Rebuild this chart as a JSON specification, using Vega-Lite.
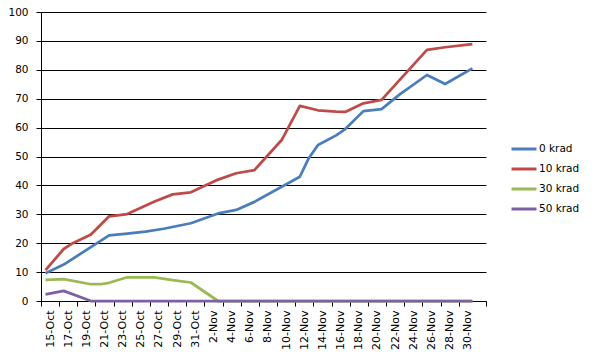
{
  "$schema": "https://vega.github.io/schema/vega-lite/v6.json",
  "width": 445,
  "height": 289,
  "autosize": {"type": "none"},
  "padding": {"left": 41, "top": 12, "right": 109, "bottom": 51},
  "background": "white",
  "config": {
    "view": {"stroke": null},
    "font": "DejaVu Sans",
    "axis": {"labelColor": "#000000", "labelFontSize": 10.5, "domainColor": "#000000", "tickColor": "#000000", "title": null}
  },
  "data": {
    "values": [
      {"date": "2009-10-15", "series": "0 krad", "value": 9.6},
      {"date": "2009-10-17", "series": "0 krad", "value": 12.6},
      {"date": "2009-10-22", "series": "0 krad", "value": 22.7},
      {"date": "2009-10-24", "series": "0 krad", "value": 23.3},
      {"date": "2009-10-26", "series": "0 krad", "value": 24.0},
      {"date": "2009-10-28", "series": "0 krad", "value": 25.0},
      {"date": "2009-10-31", "series": "0 krad", "value": 26.9},
      {"date": "2009-11-03", "series": "0 krad", "value": 30.3},
      {"date": "2009-11-05", "series": "0 krad", "value": 31.5},
      {"date": "2009-11-07", "series": "0 krad", "value": 34.3},
      {"date": "2009-11-12", "series": "0 krad", "value": 43.0},
      {"date": "2009-11-13", "series": "0 krad", "value": 49.5},
      {"date": "2009-11-14", "series": "0 krad", "value": 54.0},
      {"date": "2009-11-16", "series": "0 krad", "value": 57.3},
      {"date": "2009-11-17", "series": "0 krad", "value": 59.5},
      {"date": "2009-11-19", "series": "0 krad", "value": 65.7},
      {"date": "2009-11-21", "series": "0 krad", "value": 66.4},
      {"date": "2009-11-23", "series": "0 krad", "value": 71.5},
      {"date": "2009-11-26", "series": "0 krad", "value": 78.2},
      {"date": "2009-11-28", "series": "0 krad", "value": 75.1},
      {"date": "2009-12-01", "series": "0 krad", "value": 80.5},

      {"date": "2009-10-15", "series": "10 krad", "value": 10.7},
      {"date": "2009-10-17", "series": "10 krad", "value": 18.0},
      {"date": "2009-10-18", "series": "10 krad", "value": 20.0},
      {"date": "2009-10-20", "series": "10 krad", "value": 23.0},
      {"date": "2009-10-22", "series": "10 krad", "value": 29.3},
      {"date": "2009-10-24", "series": "10 krad", "value": 30.1},
      {"date": "2009-10-27", "series": "10 krad", "value": 34.4},
      {"date": "2009-10-29", "series": "10 krad", "value": 36.9},
      {"date": "2009-10-31", "series": "10 krad", "value": 37.6},
      {"date": "2009-11-03", "series": "10 krad", "value": 42.0},
      {"date": "2009-11-05", "series": "10 krad", "value": 44.2},
      {"date": "2009-11-07", "series": "10 krad", "value": 45.3},
      {"date": "2009-11-10", "series": "10 krad", "value": 55.7},
      {"date": "2009-11-12", "series": "10 krad", "value": 67.5},
      {"date": "2009-11-14", "series": "10 krad", "value": 66.0},
      {"date": "2009-11-16", "series": "10 krad", "value": 65.5},
      {"date": "2009-11-17", "series": "10 krad", "value": 65.4},
      {"date": "2009-11-19", "series": "10 krad", "value": 68.4},
      {"date": "2009-11-21", "series": "10 krad", "value": 69.6},
      {"date": "2009-11-26", "series": "10 krad", "value": 86.9},
      {"date": "2009-11-28", "series": "10 krad", "value": 87.8},
      {"date": "2009-12-01", "series": "10 krad", "value": 88.9},

      {"date": "2009-10-15", "series": "30 krad", "value": 7.3},
      {"date": "2009-10-17", "series": "30 krad", "value": 7.6},
      {"date": "2009-10-20", "series": "30 krad", "value": 5.8},
      {"date": "2009-10-21", "series": "30 krad", "value": 5.8},
      {"date": "2009-10-22", "series": "30 krad", "value": 6.3},
      {"date": "2009-10-24", "series": "30 krad", "value": 8.2},
      {"date": "2009-10-27", "series": "30 krad", "value": 8.2},
      {"date": "2009-10-29", "series": "30 krad", "value": 7.2},
      {"date": "2009-10-31", "series": "30 krad", "value": 6.4},
      {"date": "2009-11-03", "series": "30 krad", "value": 0},
      {"date": "2009-11-10", "series": "30 krad", "value": 0},
      {"date": "2009-11-17", "series": "30 krad", "value": 0},
      {"date": "2009-11-24", "series": "30 krad", "value": 0},
      {"date": "2009-12-01", "series": "30 krad", "value": 0},

      {"date": "2009-10-15", "series": "50 krad", "value": 2.3},
      {"date": "2009-10-17", "series": "50 krad", "value": 3.5},
      {"date": "2009-10-20", "series": "50 krad", "value": 0},
      {"date": "2009-10-27", "series": "50 krad", "value": 0},
      {"date": "2009-11-03", "series": "50 krad", "value": 0},
      {"date": "2009-11-10", "series": "50 krad", "value": 0},
      {"date": "2009-11-17", "series": "50 krad", "value": 0},
      {"date": "2009-11-24", "series": "50 krad", "value": 0},
      {"date": "2009-12-01", "series": "50 krad", "value": 0}
    ]
  },
  "mark": {"type": "line", "strokeWidth": 2.75, "strokeJoin": "round", "strokeCap": "butt"},
  "encoding": {
    "x": {
      "field": "date",
      "type": "temporal",
      "scale": {"type": "utc", "domain": [1255521600000, 1259755200000], "nice": false},
      "axis": {
        "values": [1255521600000, 1255694400000, 1255867200000, 1256040000000, 1256212800000, 1256385600000, 1256558400000, 1256731200000, 1256904000000, 1257076800000, 1257249600000, 1257422400000, 1257595200000, 1257768000000, 1257940800000, 1258113600000, 1258286400000, 1258459200000, 1258632000000, 1258804800000, 1258977600000, 1259150400000, 1259323200000, 1259496000000, 1259755200000],
        "labelExpr": "+datum.value > 1259700000000 ? '' : utcFormat(+datum.value + 43200000, '%-d-%b')",
        "labelAngle": -90,
        "labelAlign": "right",
        "labelBaseline": "middle",
        "labelOffset": 9,
        "labelPadding": 4,
        "labelFontSize": 11,
        "labelFlush": false,
        "labelOverlap": false,
        "tickSize": 5,
        "grid": false
      }
    },
    "y": {
      "field": "value",
      "type": "quantitative",
      "scale": {"domain": [0, 100], "nice": false},
      "axis": {
        "values": [0, 10, 20, 30, 40, 50, 60, 70, 80, 90, 100],
        "grid": true,
        "gridColor": "#000000",
        "gridOpacity": 1,
        "gridWidth": 1,
        "tickSize": 5,
        "labelPadding": 8
      }
    },
    "color": {
      "field": "series",
      "type": "nominal",
      "scale": {"domain": ["0 krad", "10 krad", "30 krad", "50 krad"], "range": ["#4A7EBB", "#BE4B48", "#98B954", "#7D60A0"]},
      "legend": {
        "title": null,
        "orient": "none",
        "legendX": 469,
        "legendY": 123,
        "symbolType": "stroke",
        "symbolSize": 625,
        "symbolStrokeWidth": 3,
        "labelFontSize": 10.5,
        "labelColor": "#000000",
        "labelOffset": 1,
        "rowPadding": -1,
        "padding": 0
      }
    }
  }
}
